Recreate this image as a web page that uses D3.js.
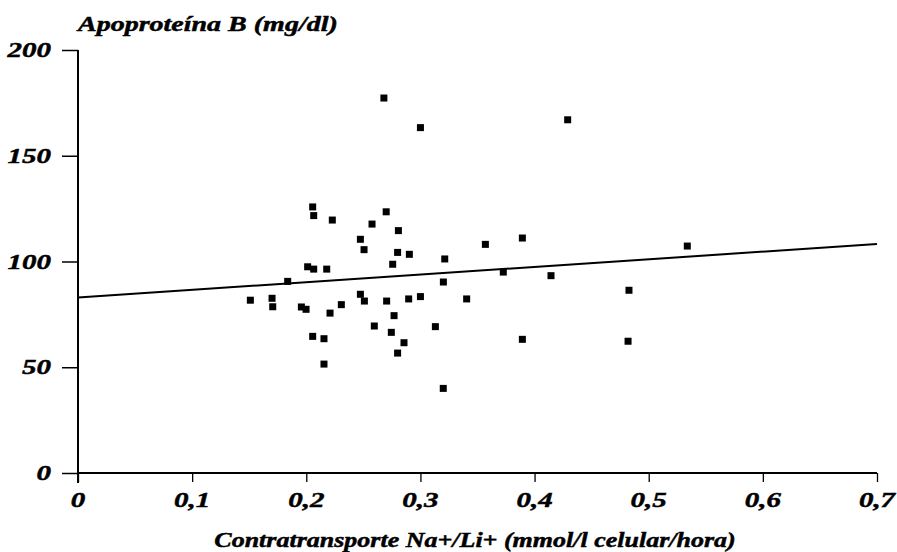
<!DOCTYPE html>
<html><head><meta charset="utf-8">
<script src="https://cdn.jsdelivr.net/npm/d3@7"></script>
<style>body{margin:0;background:#fff}svg text{font-family:"Liberation Serif","Times New Roman",serif;font-weight:bold;font-style:italic;fill:#000;stroke:#000;stroke-width:0.45px}</style>
</head><body><svg id="c" width="897" height="552"></svg>
<script>
const xValues = [0.151,0.170,0.1706,0.1837,0.1957,0.1998,0.2012,0.2056,0.2065,0.2065,0.2056,0.2155,0.2155,0.2179,0.2208,0.2228,0.2307,0.2474,0.2474,0.2506,0.2509,0.2576,0.2596,0.268,0.270,0.2704,0.2745,0.2757,0.2769,0.2807,0.280,0.280,0.2856,0.2897,0.2903,0.300,0.300,0.3131,0.320,0.3201,0.3213,0.3405,0.3569,0.3726,0.3893,0.3893,0.4144,0.429,0.4827,0.4819,0.5338];
const yValues = [81.7,82.6,78.6,90.6,78.5,77.4,97.5,125.8,121.7,96.4,64.6,63.5,51.5,96.4,75.6,119.6,79.6,110.5,84.5,105.6,81.3,117.7,69.5,177.3,123.5,81.3,66.5,98.7,74.4,114.6,104.3,56.7,61.6,82.3,103.4,163.3,83.4,69.2,40.0,90.3,101.2,82.3,108.1,95.0,111.1,63.2,93.3,167.0,86.4,62.3,107.3];
const xTicks = [0,0.1,0.2,0.3,0.4,0.5,0.6,0.7];
const yTicks = [0,50,100,150,200];
const regIntercept = 83.0;
const regSlope = 36.1;
const yTitle = "Apoproteína B (mg/dl)";
const xTitle = "Contratransporte Na+/Li+ (mmol/l celular/hora)";

const svg = d3.select("#c");
const x = d3.scaleLinear().domain([0,0.7]).range([78,877]);
const y = d3.scaleLinear().domain([0,200]).range([473,50]);
const SX = 1.38;

// y axis
const ya = svg.append("g").attr("transform","translate(78,0)")
  .call(d3.axisLeft(y).tickValues(yTicks).tickSize(16).tickFormat(""));
ya.select(".domain").remove();
ya.selectAll("line").attr("stroke","#000").attr("stroke-width",1.5);
svg.append("line").attr("x1",78).attr("x2",78).attr("y1",y(200)).attr("y2",483).attr("stroke","#000").attr("stroke-width",2);

// x axis
const xa = svg.append("g").attr("transform","translate(0,"+y(0)+")")
  .call(d3.axisBottom(x).tickValues(xTicks).tickSize(9).tickFormat(""));
xa.select(".domain").remove();
xa.selectAll("line").attr("stroke","#000").attr("stroke-width",1.3);
svg.append("line").attr("x1",x(0)).attr("x2",x(0.7)).attr("y1",y(0)).attr("y2",y(0)).attr("stroke","#000").attr("stroke-width",2);

// tick labels
yTicks.forEach(v=>{
  svg.append("text").attr("transform","translate(51,"+(y(v)+7)+") scale("+SX+",1)")
    .attr("text-anchor","end").attr("font-size",21).text(v);
});
xTicks.forEach(v=>{
  svg.append("text").attr("transform","translate("+x(v)+",507) scale("+SX+",1)")
    .attr("text-anchor","middle").attr("font-size",21).text(String(v).replace(".",","));
});

// titles
svg.append("text").attr("transform","translate(78,31) scale(1.4,1)").attr("font-size",20).text(yTitle);
svg.append("text").attr("transform","translate(475,547) scale(1.3,1)").attr("text-anchor","middle").attr("font-size",20).text(xTitle);

// regression line
svg.append("line").attr("x1",x(0)).attr("x2",x(0.7))
  .attr("y1",y(regIntercept)).attr("y2",y(regIntercept+regSlope*0.7))
  .attr("stroke","#000").attr("stroke-width",2);

// points
const pts = xValues.map((v,i)=>[v,yValues[i]]);
svg.append("g").selectAll("rect").data(pts).join("rect")
  .attr("x",d=>x(d[0])-3.5).attr("y",d=>y(d[1])-3.5)
  .attr("width",7).attr("height",7).attr("fill","#000");
</script></body></html>
